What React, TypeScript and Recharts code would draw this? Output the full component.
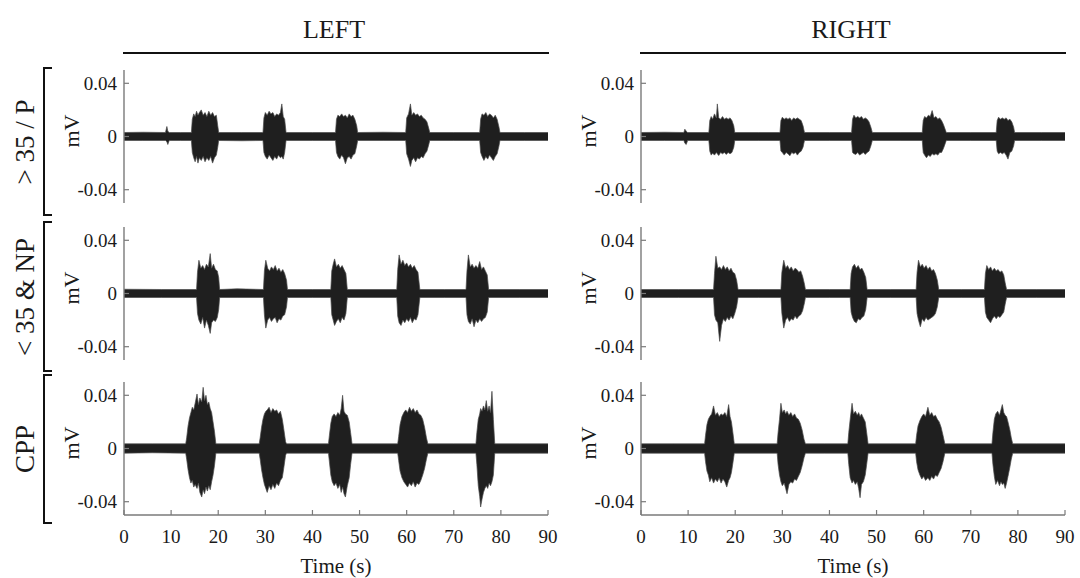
import React from 'react';
import { ComposedChart, Area, XAxis, YAxis } from 'recharts';

type Pt = [number, number, number]; // [time (s), upper envelope (mV), lower envelope (mV)]

const columnTitles = ['LEFT', 'RIGHT'];
const groupLabels = ['> 35 / P', '< 35 & NP', 'CPP'];
const timeTicks = [0, 10, 20, 30, 40, 50, 60, 70, 80, 90];
const voltTicks = [-0.04, 0, 0.04];
const timeDomain: [number, number] = [0, 90];
const voltDomain: [number, number] = [-0.05, 0.05];
const xAxisTitle = 'Time (s)';
const yAxisTitle = 'mV';

const leftTopTrace: Pt[] = [
  [0, .003, -.003], [4, .0032, -.003], [8.8, .003, -.003], [9.1, .0075, -.004], [9.3, .004, -.006], [9.6, .003, -.003], [12, .003, -.003],
  [14.3, .003, -.003], [14.5, .013, -.012], [14.8, .017, -.016], [15.1, .015, -.019], [15.4, .019, -.015], [15.7, .016, -.02], [16.0, .018, -.016], [16.4, .02, -.018], [16.8, .016, -.015], [17.2, .018, -.019], [17.6, .015, -.016], [18.0, .019, -.018], [18.4, .016, -.015], [18.8, .018, -.02], [19.2, .015, -.016], [19.6, .016, -.014], [19.9, .008, -.008], [20.1, .003, -.003],
  [25, .003, -.0032],
  [29.5, .003, -.003], [29.7, .014, -.012], [30.0, .018, -.015], [30.4, .016, -.017], [30.8, .019, -.014], [31.2, .017, -.016], [31.6, .018, -.018], [32.0, .015, -.015], [32.4, .017, -.017], [32.8, .016, -.014], [33.2, .018, -.016], [33.5, .0245, -.015], [33.8, .015, -.017], [34.1, .013, -.012], [34.4, .003, -.003],
  [40, .003, -.003],
  [44.9, .003, -.003], [45.1, .013, -.012], [45.4, .016, -.015], [45.8, .015, -.017], [46.2, .017, -.014], [46.6, .015, -.016], [47.0, .016, -.0205], [47.4, .014, -.016], [47.8, .017, -.015], [48.2, .015, -.017], [48.6, .016, -.014], [49.0, .013, -.013], [49.4, .008, -.007], [49.6, .003, -.003],
  [55, .0032, -.003],
  [59.8, .003, -.003], [60.0, .014, -.013], [60.4, .017, -.017], [60.8, .0245, -.0225], [61.1, .016, -.018], [61.5, .018, -.016], [61.9, .016, -.019], [62.3, .017, -.016], [62.7, .015, -.017], [63.1, .016, -.015], [63.5, .014, -.016], [63.9, .013, -.013], [64.3, .011, -.011], [64.7, .006, -.006], [64.9, .003, -.003],
  [70, .003, -.003],
  [75.5, .003, -.003], [75.7, .013, -.012], [76.0, .017, -.015], [76.4, .016, -.018], [76.8, .018, -.015], [77.2, .015, -.017], [77.6, .017, -.014], [78.0, .016, -.016], [78.4, .014, -.018], [78.8, .016, -.015], [79.2, .013, -.013], [79.6, .007, -.007], [79.8, .003, -.003],
  [85, .003, -.003], [90, .003, -.003],
];

const leftMidTrace: Pt[] = [
  [0, .0032, -.003], [8, .003, -.003],
  [15.4, .003, -.003], [15.6, .016, -.015], [15.9, .025, -.02], [16.3, .019, -.023], [16.7, .021, -.018], [17.1, .018, -.026], [17.5, .022, -.02], [17.9, .02, -.024], [18.3, .03, -.03], [18.6, .019, -.022], [19.0, .022, -.02], [19.4, .018, -.021], [19.8, .017, -.018], [20.1, .012, -.012], [20.3, .003, -.003],
  [24, .0035, -.003],
  [29.6, .003, -.003], [29.8, .017, -.016], [30.1, .025, -.026], [30.5, .019, -.02], [30.9, .017, -.018], [31.3, .02, -.021], [31.7, .018, -.019], [32.1, .021, -.018], [32.5, .017, -.022], [32.9, .019, -.019], [33.3, .016, -.02], [33.7, .018, -.017], [34.1, .015, -.016], [34.5, .01, -.01], [34.7, .003, -.003],
  [40, .003, -.003],
  [43.9, .003, -.003], [44.1, .017, -.016], [44.4, .022, -.02], [44.7, .026, -.024], [45.1, .02, -.021], [45.5, .022, -.019], [45.9, .019, -.022], [46.3, .021, -.018], [46.7, .018, -.02], [47.1, .015, -.015], [47.4, .003, -.003],
  [52, .003, -.003],
  [57.9, .003, -.003], [58.1, .018, -.017], [58.4, .029, -.022], [58.8, .022, -.024], [59.2, .025, -.02], [59.6, .021, -.022], [60.0, .023, -.019], [60.4, .02, -.021], [60.8, .022, -.018], [61.2, .019, -.022], [61.6, .021, -.019], [62.0, .018, -.02], [62.4, .016, -.016], [62.8, .003, -.003],
  [68, .003, -.003],
  [72.6, .003, -.003], [72.8, .017, -.016], [73.1, .029, -.021], [73.5, .02, -.023], [73.9, .022, -.019], [74.3, .019, -.025], [74.7, .021, -.02], [75.1, .019, -.022], [75.5, .024, -.019], [75.9, .018, -.021], [76.3, .02, -.019], [76.7, .017, -.018], [77.1, .014, -.014], [77.4, .003, -.003],
  [84, .003, -.003], [90, .003, -.003],
];

const leftBotTrace: Pt[] = [
  [0, .0035, -.0035], [6, .0035, -.0032],
  [13.1, .0035, -.0035], [13.3, .008, -.008], [13.6, .017, -.016], [13.9, .023, -.022], [14.2, .027, -.026], [14.5, .031, -.024], [14.8, .029, -.029], [15.1, .034, -.027], [15.5, .041, -.03], [15.8, .033, -.026], [16.1, .038, -.033], [16.5, .035, -.0365], [16.8, .046, -.031], [17.1, .036, -.034], [17.4, .04, -.029], [17.7, .033, -.032], [18.0, .035, -.028], [18.3, .03, -.031], [18.6, .027, -.025], [18.9, .02, -.02], [19.2, .013, -.013], [19.5, .0035, -.0035],
  [24, .0035, -.0035],
  [28.7, .0035, -.0035], [28.9, .008, -.008], [29.2, .016, -.016], [29.5, .022, -.022], [29.8, .026, -.027], [30.1, .028, -.03], [30.4, .029, -.033], [30.8, .031, -.028], [31.2, .027, -.031], [31.6, .03, -.027], [32.0, .028, -.03], [32.4, .029, -.026], [32.8, .026, -.028], [33.2, .028, -.024], [33.6, .022, -.022], [33.9, .015, -.015], [34.3, .005, -.005], [34.5, .0035, -.0035],
  [39, .0035, -.0035],
  [43.4, .0035, -.0035], [43.6, .01, -.01], [43.9, .019, -.02], [44.2, .024, -.025], [44.6, .026, -.028], [45.0, .024, -.026], [45.4, .027, -.03], [45.8, .025, -.027], [46.1, .03, -.033], [46.4, .04, -.029], [46.7, .028, -.034], [47.0, .026, -.0365], [47.4, .025, -.028], [47.8, .02, -.022], [48.1, .012, -.012], [48.4, .0035, -.0035],
  [53, .0035, -.0035],
  [58.1, .0035, -.0035], [58.3, .009, -.009], [58.6, .018, -.017], [59.0, .024, -.022], [59.4, .027, -.025], [59.8, .029, -.027], [60.2, .027, -.029], [60.6, .031, -.026], [61.0, .028, -.028], [61.4, .03, -.025], [61.8, .027, -.029], [62.2, .029, -.026], [62.6, .026, -.027], [63.0, .025, -.024], [63.4, .022, -.02], [63.8, .016, -.015], [64.2, .008, -.008], [64.5, .0035, -.0035],
  [70, .0035, -.0035],
  [74.7, .0035, -.0035], [74.9, .012, -.012], [75.2, .022, -.028], [75.5, .026, -.036], [75.7, .03, -.044], [76.0, .028, -.038], [76.3, .032, -.033], [76.6, .029, -.03], [76.9, .036, -.028], [77.2, .028, -.03], [77.5, .032, -.026], [77.8, .027, -.028], [78.1, .043, -.025], [78.4, .022, -.02], [78.7, .0035, -.0035],
  [84, .0035, -.0035], [90, .0035, -.0035],
];

const rightTopTrace: Pt[] = [
  [0, .003, -.003], [5, .0032, -.003], [9.1, .003, -.003], [9.3, .0055, -.005], [9.6, .004, -.006], [9.9, .003, -.003],
  [14.4, .003, -.003], [14.6, .012, -.011], [14.9, .015, -.014], [15.2, .013, -.0125], [15.6, .017, -.014], [16.0, .014, -.012], [16.2, .0245, -.013], [16.5, .014, -.0143], [16.9, .013, -.012], [17.3, .015, -.013], [17.7, .013, -.012], [18.1, .014, -.0135], [18.5, .013, -.012], [18.9, .014, -.013], [19.3, .012, -.012], [19.7, .008, -.008], [19.9, .003, -.003],
  [25, .003, -.003],
  [29.5, .003, -.003], [29.7, .012, -.011], [30.0, .0145, -.012], [30.4, .013, -.014], [30.8, .014, -.012], [31.2, .013, -.013], [31.6, .014, -.0145], [32.0, .012, -.012], [32.4, .014, -.013], [32.8, .013, -.012], [33.2, .014, -.014], [33.6, .013, -.012], [34.0, .012, -.011], [34.4, .008, -.008], [34.7, .003, -.003],
  [40, .003, -.003],
  [44.7, .003, -.003], [44.9, .013, -.012], [45.2, .016, -.013], [45.6, .014, -.0135], [46.0, .015, -.012], [46.4, .014, -.014], [46.8, .015, -.013], [47.2, .013, -.012], [47.6, .014, -.0135], [48.0, .013, -.012], [48.4, .011, -.011], [48.8, .007, -.007], [49.1, .003, -.003],
  [55, .003, -.003],
  [59.7, .003, -.003], [59.9, .012, -.012], [60.2, .015, -.014], [60.6, .014, -.016], [61.0, .016, -.014], [61.4, .015, -.015], [61.8, .0195, -.013], [62.2, .014, -.014], [62.6, .015, -.013], [63.0, .013, -.014], [63.4, .014, -.012], [63.8, .012, -.012], [64.2, .009, -.009], [64.6, .005, -.005], [64.8, .003, -.003],
  [70, .003, -.003],
  [75.4, .003, -.003], [75.6, .012, -.011], [75.9, .0145, -.013], [76.3, .013, -.012], [76.7, .014, -.013], [77.1, .013, -.012], [77.5, .014, -.014], [77.9, .012, -.017], [78.3, .013, -.012], [78.7, .011, -.011], [79.1, .007, -.007], [79.3, .003, -.003],
  [85, .003, -.003], [90, .003, -.003],
];

const rightMidTrace: Pt[] = [
  [0, .003, -.003], [8, .003, -.003],
  [15.4, .003, -.003], [15.6, .015, -.016], [15.9, .028, -.02], [16.3, .019, -.022], [16.7, .02, -.036], [17.1, .018, -.024], [17.5, .021, -.019], [17.9, .018, -.021], [18.3, .02, -.018], [18.7, .017, -.02], [19.1, .019, -.017], [19.5, .016, -.019], [19.9, .015, -.015], [20.3, .01, -.01], [20.6, .003, -.003],
  [25, .003, -.003],
  [29.7, .003, -.003], [29.9, .016, -.015], [30.3, .025, -.026], [30.7, .019, -.02], [31.1, .021, -.018], [31.5, .018, -.021], [31.9, .02, -.019], [32.3, .017, -.02], [32.7, .019, -.017], [33.1, .018, -.019], [33.5, .016, -.017], [33.9, .017, -.016], [34.3, .013, -.013], [34.7, .007, -.007], [34.9, .003, -.003],
  [40, .003, -.003],
  [44.4, .003, -.003], [44.6, .015, -.014], [44.9, .02, -.018], [45.3, .022, -.021], [45.7, .019, -.022], [46.1, .021, -.019], [46.5, .018, -.02], [46.9, .019, -.018], [47.3, .016, -.017], [47.7, .012, -.012], [48.0, .003, -.003],
  [53, .003, -.003],
  [58.4, .003, -.003], [58.6, .016, -.015], [58.9, .025, -.02], [59.3, .02, -.025], [59.7, .022, -.019], [60.1, .019, -.021], [60.5, .021, -.018], [60.9, .018, -.02], [61.3, .02, -.019], [61.7, .017, -.018], [62.1, .018, -.017], [62.5, .015, -.015], [62.9, .01, -.01], [63.2, .003, -.003],
  [68, .003, -.003],
  [72.9, .003, -.003], [73.1, .015, -.014], [73.4, .021, -.018], [73.8, .018, -.02], [74.2, .02, -.022], [74.6, .017, -.019], [75.0, .019, -.017], [75.4, .017, -.019], [75.8, .018, -.017], [76.2, .016, -.018], [76.6, .017, -.016], [77.0, .014, -.014], [77.3, .008, -.008], [77.6, .003, -.003],
  [84, .003, -.003], [90, .003, -.003],
];

const rightBotTrace: Pt[] = [
  [0, .0035, -.0035], [7, .0035, -.0035],
  [13.5, .0035, -.0035], [13.7, .01, -.01], [14.0, .018, -.017], [14.3, .022, -.02], [14.6, .024, -.025], [15.0, .026, -.022], [15.4, .032, -.026], [15.8, .025, -.023], [16.2, .027, -.025], [16.6, .024, -.022], [17.0, .026, -.026], [17.4, .025, -.023], [17.8, .027, -.025], [18.2, .024, -.029], [18.6, .033, -.024], [18.9, .024, -.022], [19.2, .02, -.018], [19.5, .012, -.011], [19.8, .0035, -.0035],
  [24, .0035, -.0035],
  [28.9, .0035, -.0035], [29.1, .012, -.012], [29.4, .022, -.02], [29.7, .034, -.025], [30.0, .027, -.028], [30.4, .029, -.026], [30.7, .026, -.03], [31.0, .028, -.034], [31.4, .025, -.027], [31.8, .027, -.025], [32.2, .024, -.026], [32.6, .026, -.023], [33.0, .023, -.024], [33.4, .022, -.021], [33.8, .019, -.018], [34.2, .014, -.013], [34.6, .007, -.007], [34.9, .0035, -.0035],
  [39, .0035, -.0035],
  [43.9, .0035, -.0035], [44.1, .012, -.012], [44.4, .022, -.022], [44.8, .034, -.026], [45.1, .026, -.024], [45.5, .028, -.027], [45.9, .025, -.025], [46.2, .027, -.03], [46.5, .024, -.037], [46.8, .026, -.027], [47.2, .023, -.025], [47.6, .02, -.02], [47.9, .012, -.012], [48.2, .0035, -.0035],
  [53, .0035, -.0035],
  [58.3, .0035, -.0035], [58.5, .01, -.01], [58.8, .017, -.016], [59.2, .021, -.02], [59.6, .024, -.023], [60.0, .026, -.021], [60.4, .024, -.024], [60.9, .031, -.022], [61.3, .025, -.024], [61.7, .027, -.021], [62.1, .024, -.023], [62.5, .025, -.02], [62.9, .022, -.021], [63.3, .02, -.018], [63.7, .016, -.015], [64.1, .01, -.01], [64.5, .0035, -.0035],
  [69, .0035, -.0035],
  [74.5, .0035, -.0035], [74.7, .012, -.012], [75.0, .022, -.021], [75.3, .026, -.027], [75.7, .028, -.024], [76.1, .025, -.028], [76.4, .029, -.025], [76.7, .033, -.027], [77.0, .027, -.026], [77.3, .025, -.03], [77.6, .024, -.026], [77.9, .02, -.021], [78.3, .014, -.014], [78.6, .008, -.008], [78.9, .0035, -.0035],
  [84, .0035, -.0035], [90, .0035, -.0035],
];

const traces: Pt[][][] = [
  [leftTopTrace, rightTopTrace],
  [leftMidTrace, rightMidTrace],
  [leftBotTrace, rightBotTrace],
];

// ---------- layout / style ----------
const FONT = '"Liberation Serif", "Times New Roman", serif';
const FRAME = '#7a7a7a';
const INK = '#1a1a1a';
const PLOT_W = 424;
const PLOT_H = 133;
const COL_X = [124, 641];
const ROW_Y = [70, 227, 382];
const Y_AXIS_W = 60;
const X_AXIS_H = 40;
const RIGHT_PAD = 14;
const BRACKETS = [[67, 216], [221, 372], [374, 524]];

const blankTick = () => <g />;
const fmtVolt = (v: number) => (v === 0 ? '0' : v > 0 ? v.toFixed(2) : '-' + Math.abs(v).toFixed(2));

function Panel({ trace, left, top, showX }: { trace: Pt[]; left: number; top: number; showX: boolean }) {
  const rows = trace.map(([t, hi, lo]) => ({ t, v: [lo, hi] }));
  const xh = showX ? X_AXIS_H : 0;
  const W = Y_AXIS_W + PLOT_W + RIGHT_PAD;
  const H = 2 + PLOT_H + xh + 3;
  return (
    <div style={{ position: 'absolute', left: left - Y_AXIS_W, top: top - 2 }}>
      <ComposedChart width={W} height={H} data={rows} margin={{ top: 2, right: RIGHT_PAD, bottom: 3, left: 0 }}>
        <XAxis
          xAxisId="b"
          dataKey="t"
          type="number"
          domain={timeDomain}
          ticks={timeTicks}
          allowDataOverflow
          interval={0}
          orientation="bottom"
          height={xh}
          tickSize={-5}
          tickMargin={showX ? 20 : 0}
          axisLine={{ stroke: FRAME, strokeWidth: 1.4 }}
          tickLine={{ stroke: FRAME, strokeWidth: 1.2 }}
          tick={showX ? { fill: INK, fontSize: 19, fontFamily: FONT } : blankTick}
        />
        <XAxis
          xAxisId="t"
          dataKey="t"
          type="number"
          domain={timeDomain}
          ticks={timeTicks}
          allowDataOverflow
          interval={0}
          orientation="top"
          height={0}
          tickSize={-5}
          axisLine={{ stroke: FRAME, strokeWidth: 1.4 }}
          tickLine={{ stroke: FRAME, strokeWidth: 1.2 }}
          tick={blankTick}
        />
        <YAxis
          yAxisId="l"
          type="number"
          domain={voltDomain}
          ticks={voltTicks}
          allowDataOverflow
          interval={0}
          width={Y_AXIS_W}
          tickSize={-5}
          tickMargin={12}
          tickFormatter={fmtVolt}
          axisLine={{ stroke: FRAME, strokeWidth: 1.4 }}
          tickLine={{ stroke: FRAME, strokeWidth: 1.2 }}
          tick={{ fill: INK, fontSize: 19, fontFamily: FONT }}
        />
        <YAxis
          yAxisId="r"
          orientation="right"
          type="number"
          domain={voltDomain}
          ticks={voltTicks}
          allowDataOverflow
          interval={0}
          width={0}
          tickSize={-5}
          axisLine={{ stroke: FRAME, strokeWidth: 1.4 }}
          tickLine={{ stroke: FRAME, strokeWidth: 1.2 }}
          tick={blankTick}
        />
        <Area
          xAxisId="b"
          yAxisId="l"
          dataKey="v"
          type="linear"
          fill="#1f1f1f"
          fillOpacity={1}
          stroke="#4a4a4a"
          strokeWidth={0.7}
          dot={false}
          activeDot={false}
          isAnimationActive={false}
        />
      </ComposedChart>
    </div>
  );
}

const textStyle = (x: number, y: number, size: number, rotate = false): React.CSSProperties => ({
  position: 'absolute',
  left: x,
  top: y,
  transform: `translate(-50%, -50%)${rotate ? ' rotate(-90deg)' : ''}`,
  fontFamily: FONT,
  fontSize: size,
  color: INK,
  whiteSpace: 'nowrap',
  lineHeight: 1,
});

export default function App() {
  return (
    <div style={{ position: 'absolute', left: 0, top: 0, width: 1080, height: 578, background: '#fff', overflow: 'hidden' }}>
      {columnTitles.map((title, c) => (
        <React.Fragment key={title}>
          <div style={textStyle(COL_X[c] + PLOT_W / 2 - 2, 30, 26)}>{title}</div>
          <div
            style={{
              position: 'absolute',
              left: COL_X[c] - 1,
              top: 51.5,
              width: PLOT_W + 2,
              height: 2.5,
              background: '#111',
            }}
          />
          {ROW_Y.map((y) => (
            <div key={y} style={textStyle(COL_X[c] - 52, y + PLOT_H / 2 - 6, 22, true)}>
              {yAxisTitle}
            </div>
          ))}
          <div style={textStyle(COL_X[c] + PLOT_W / 2, 566, 21)}>{xAxisTitle}</div>
        </React.Fragment>
      ))}
      {groupLabels.map((label, r) => (
        <React.Fragment key={label}>
          <div
            style={{
              position: 'absolute',
              left: 43,
              top: BRACKETS[r][0],
              width: 9,
              height: BRACKETS[r][1] - BRACKETS[r][0],
              borderLeft: '2.5px solid #111',
              borderTop: '2.5px solid #111',
              borderBottom: '2.5px solid #111',
              boxSizing: 'border-box',
            }}
          />
          <div style={textStyle(25, (BRACKETS[r][0] + BRACKETS[r][1]) / 2, 27, true)}>{label}</div>
        </React.Fragment>
      ))}
      {traces.map((row, r) =>
        row.map((trace, c) => (
          <Panel key={`${r}-${c}`} trace={trace} left={COL_X[c]} top={ROW_Y[r]} showX={r === 2} />
        ))
      )}
    </div>
  );
}
